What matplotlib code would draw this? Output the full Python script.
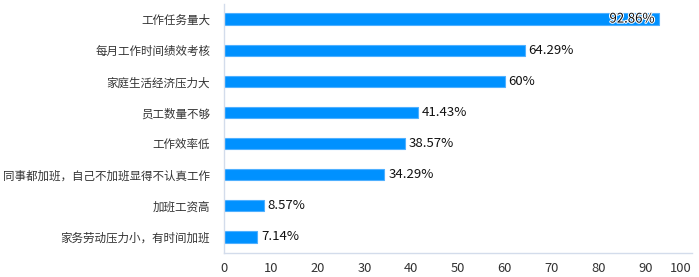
import matplotlib.pyplot as plt
import matplotlib.patheffects as pe

plt.rcParams['font.family'] = ['Noto Sans CJK SC', 'DejaVu Sans']

categories = ["工作任务量大", "每月工作时间绩效考核", "家庭生活经济压力大", "员工数量不够",
              "工作效率低", "同事都加班，自己不加班显得不认真工作", "加班工资高",
              "家务劳动压力小，有时间加班"]
values = [92.86, 64.29, 60, 41.43, 38.57, 34.29, 8.57, 7.14]
value_labels = ["92.86%", "64.29%", "60%", "41.43%", "38.57%", "34.29%", "8.57%", "7.14%"]

fig = plt.figure(figsize=(6.99, 2.77), dpi=100)
ax = fig.add_axes([224 / 699, 1 - 252.5 / 277, 468 / 699, 249 / 277])

ypos = list(range(len(categories)))
ax.barh(ypos, values, height=0.36, color="#0091FF", edgecolor="#4FB0FF", linewidth=0.8)
ax.set_ylim(len(categories) - 0.5, -0.5)
ax.set_xlim(0, 100)
ax.set_xticks(range(0, 101, 10))
ax.set_yticks(ypos)
ax.set_yticklabels(categories, fontsize=8.3, color="#333333")
ax.tick_params(axis="x", labelsize=9.3, colors="#333333", length=0, pad=7)
ax.tick_params(axis="y", length=0, pad=10)
ax.get_xticklabels()[-1].set_horizontalalignment("right")

for s in ["top", "right"]:
    ax.spines[s].set_visible(False)
for s in ["left", "bottom"]:
    ax.spines[s].set_color("#D3DCEB")
    ax.spines[s].set_linewidth(1)

for y, v, lab in zip(ypos, values, value_labels):
    if v > 90:
        t = ax.text(v - 0.8, y, lab, ha="right", va="center", fontsize=9.5, color="#111111")
        t.set_path_effects([pe.withStroke(linewidth=1.5, foreground="white")])
    else:
        ax.text(v + 0.8, y, lab, ha="left", va="center", fontsize=9.5, color="#111111")

fig.savefig("out.png", dpi=100)
